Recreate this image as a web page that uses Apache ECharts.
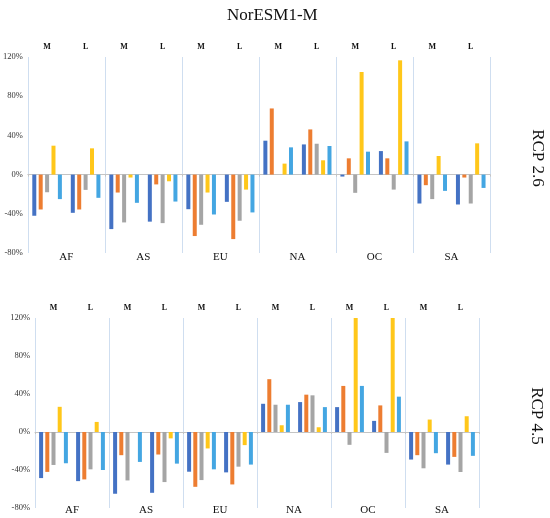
<!DOCTYPE html>
<html lang="en">
<head>
    <meta charset="UTF-8">
    <title>NorESM1-M</title>
    <style>
        html, body { margin: 0; padding: 0; background: #fff; }
        #main { width: 550px; height: 518px; }
    </style>
</head>
<body>
    <div id="main"></div>
    <script src="https://cdn.jsdelivr.net/npm/echarts@6/dist/echarts.min.js"></script>
    <script>
        // regions and the M / L groups inside each region
        var regions = ['AF', 'AS', 'EU', 'NA', 'OC', 'SA'];
        var groups = ['M', 'L'];
        var yTicks = [-80, -40, 0, 40, 80, 120];

        // RCP 2.6 - one array per bar colour, order: AF M, AF L, AS M, AS L, ...
        var rcp26Blue = [-42, -39, -55.6, -48, -35.3, -27.8, 34.6, 30.8, -2, 24, -29.5, -30.5];
        var rcp26Orange = [-35.6, -35.6, -18.3, -10, -62.7, -65.8, 67.5, 46.1, 16.6, 16.6, -10.8, -3];
        var rcp26Gray = [-18, -15.6, -48.8, -49.5, -51.2, -47.1, 0, 31.5, -18.6, -15.3, -25, -29.5];
        var rcp26Yellow = [29.5, 26.8, -3, -6.8, -18.3, -15.3, 11.2, 14.6, 104.7, 116.6, 19, 31.9];
        var rcp26LightBlue = [-25, -23.7, -28.8, -27.5, -40.7, -38.6, 27.8, 29.2, 23.4, 33.9, -16.6, -13.6];

        // RCP 4.5
        var rcp45Blue = [-48.5, -51.7, -65, -64, -41.8, -42.5, 29.7, 31.5, 26.2, 11.7, -29, -34.3];
        var rcp45Orange = [-42, -49.9, -24.4, -23.7, -57.7, -55.2, 55.6, 39.3, 48.5, 28, -24.4, -26.2];
        var rcp45Gray = [-34.7, -39.3, -51, -52.7, -50.6, -36.5, 28.7, 38.6, -13.5, -22, -38.2, -42.1];
        var rcp45Yellow = [26.5, 10.6, 0, -6.7, -17.3, -13.8, 7.1, 5, 120, 120, 13.1, 16.6];
        var rcp45LightBlue = [-32.9, -40, -31.5, -33.3, -39.3, -34.3, 28.7, 26.2, 48.5, 37.2, -22.3, -25.1];

        var colors = ['#4472C4', '#ED7D31', '#A5A5A5', '#FFC71A', '#44A6E2'];
        var serif = '"Liberation Serif", "DejaVu Serif", serif';

        // 12 slots: region + group
        var slots = [];
        var slotGroups = [];
        regions.forEach(function (r) {
            groups.forEach(function (g) {
                slots.push(r + ' ' + g);
                slotGroups.push(g);
            });
        });

        var myChart = echarts.init(document.getElementById('main'), null, { renderer: 'canvas' });

        function panelAxes(gridIndex) {
            return [
                // bar axis, sits on the 0% line
                {
                    type: 'category', gridIndex: gridIndex, data: slots, position: 'bottom',
                    axisLine: { onZero: true, lineStyle: { color: '#c4c4c4', width: 1 } },
                    axisTick: { show: true, length: 2, lineStyle: { color: '#c4c4c4' } },
                    axisLabel: { show: false },
                    splitLine: { show: false }
                },
                // region labels + separators
                {
                    type: 'category', gridIndex: gridIndex, data: regions, position: 'bottom',
                    axisLine: { show: false, onZero: false },
                    axisTick: { show: false },
                    axisLabel: { fontFamily: serif, fontSize: 11, color: '#111', margin: gridIndex === 0 ? 4 : 2, verticalAlign: 'middle' },
                    splitLine: { show: true, lineStyle: { color: '#cfdef0', width: 1 } }
                },
                // M / L labels on top
                {
                    type: 'category', gridIndex: gridIndex, data: slotGroups, position: 'top',
                    axisLine: { show: false, onZero: false },
                    axisTick: { show: false },
                    axisLabel: { fontFamily: serif, fontSize: 8, fontWeight: 'bold', color: '#111', margin: 6, interval: 0 },
                    splitLine: { show: false }
                }
            ];
        }

        function valueAxis(gridIndex) {
            return {
                type: 'value', gridIndex: gridIndex,
                min: yTicks[0], max: yTicks[yTicks.length - 1], interval: 40,
                axisLine: { show: false },
                axisTick: { show: false },
                splitLine: { show: false },
                axisLabel: { formatter: '{value}%', fontFamily: serif, fontSize: 8.5, color: '#333', margin: 5 }
            };
        }

        function panelSeries(xIndex, yIndex, data, gap) {
            return data.map(function (d, i) {
                return {
                    name: 'S' + (i + 1),
                    type: 'bar',
                    xAxisIndex: xIndex,
                    yAxisIndex: yIndex,
                    data: d,
                    barWidth: 4,
                    barGap: gap,
                    itemStyle: { color: colors[i] },
                    animation: false
                };
            });
        }

        var option = {
            backgroundColor: '#fff',
            title: {
                text: 'NorESM1-M',
                left: 222, top: 2,
                textStyle: { fontFamily: serif, fontSize: 17, fontWeight: 'normal', color: '#111' }
            },
            grid: [
                { left: 27, right: 60, top: 57, height: 196 },
                { left: 35, right: 71, top: 318, height: 190 }
            ],
            xAxis: panelAxes(0).concat(panelAxes(1)),
            yAxis: [valueAxis(0), valueAxis(1)],
            series: panelSeries(0, 0, [rcp26Blue, rcp26Orange, rcp26Gray, rcp26Yellow, rcp26LightBlue], '60%')
                .concat(panelSeries(3, 1, [rcp45Blue, rcp45Orange, rcp45Gray, rcp45Yellow, rcp45LightBlue], '55%')),
            graphic: [
                {
                    type: 'text', x: 537, y: 158, rotation: -Math.PI / 2,
                    style: { text: 'RCP 2.6', fontFamily: serif, fontSize: 17, fill: '#111', align: 'center', verticalAlign: 'middle' }
                },
                {
                    type: 'text', x: 536, y: 416, rotation: -Math.PI / 2,
                    style: { text: 'RCP 4.5', fontFamily: serif, fontSize: 17, fill: '#111', align: 'center', verticalAlign: 'middle' }
                }
            ]
        };

        myChart.setOption(option);
    </script>
</body>
</html>
